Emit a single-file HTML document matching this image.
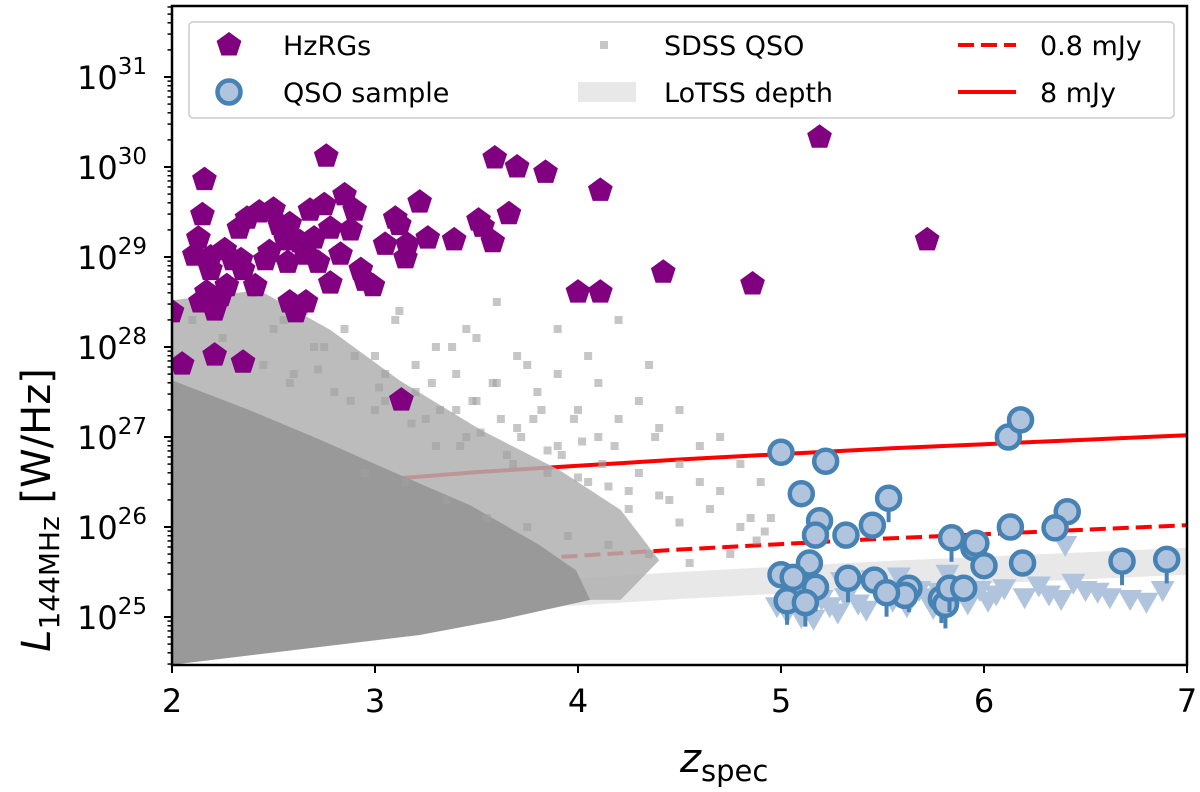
<!DOCTYPE html>
<html><head><meta charset="utf-8"><style>
body{margin:0;background:#fff;}
svg{display:block;font-family:"DejaVu Sans","Liberation Sans",sans-serif;}
</style></head><body>
<svg id="chart" width="1200" height="792" viewBox="0 0 1200 792"></svg>
<script>
// ---- data (z, log10 L) ----
const hzrgZ=[2.00,2.05,2.16,2.15,2.11,2.13,2.19,2.17,2.21,2.24,2.27,2.21,2.30,2.33,2.37,2.43,2.50,2.35,2.35,2.41,2.46,2.48,2.56,2.57,2.58,2.63,2.58,2.61,2.66,2.68,2.70,2.75,2.76,2.78,2.83,2.78,2.85,2.88,2.90,2.93,2.95,2.99,3.05,3.10,3.12,3.15,3.16,3.22,3.26,3.39,3.13,3.51,3.53,3.58,3.59,3.66,3.70,3.84,4.11,4.00,4.11,4.42,4.86,5.19,5.72,2.34,2.26,2.19,2.14,2.53,2.72,2.66];
const hzrgL=[28.39,27.81,29.86,29.47,29.02,29.21,28.86,28.61,28.41,28.57,28.68,27.91,28.97,29.32,29.43,29.50,29.53,27.83,28.86,28.68,28.97,29.06,29.19,28.94,29.37,29.17,28.50,28.39,28.50,29.52,29.21,29.58,30.12,29.32,29.03,28.71,29.69,29.30,29.52,28.86,28.74,28.68,29.14,29.43,29.36,28.99,29.14,29.61,29.21,29.19,27.41,29.41,29.34,29.17,30.10,29.48,30.00,29.94,29.74,28.61,28.61,28.83,28.70,30.33,29.19,28.97,29.08,29.00,28.50,29.36,28.94,29.03];
const qsoZ=[5.00,5.22,5.10,5.53,5.19,5.17,5.32,5.45,6.12,6.18,6.13,6.41,6.35,5.84,5.95,5.96,6.00,6.19,6.68,5.00,5.14,5.07,5.06,5.17,5.33,5.46,5.63,5.61,5.79,5.81,5.83,5.90,5.03,5.12,5.52,6.90];
const qsoL=[26.83,26.73,26.37,26.32,26.07,25.91,25.91,26.02,27.00,27.19,26.00,26.17,25.99,25.88,25.77,25.82,25.57,25.60,25.62,25.47,25.60,25.38,25.44,25.33,25.43,25.41,25.32,25.24,25.20,25.14,25.32,25.32,25.18,25.16,25.27,25.64];
const qsoHasLimit=[0,0,0,1,0,0,0,0,0,0,0,0,0,1,0,0,0,0,1,0,0,0,1,1,1,0,1,0,1,1,1,0,1,1,1,1];
const limZ=[4.98,5.03,5.08,5.12,5.16,5.20,5.24,5.28,5.32,5.38,5.42,5.50,5.55,5.62,5.68,5.72,5.75,5.78,5.86,5.92,5.98,6.02,6.06,6.10,6.20,6.27,6.32,6.38,6.44,6.50,6.56,6.62,6.72,6.80,6.88,5.45,5.58,5.82,5.10,5.30,6.40];
const limL=[25.12,25.05,25.17,25.10,24.98,25.20,25.12,25.05,25.22,25.15,25.08,25.25,25.18,25.12,25.30,25.22,25.10,25.28,25.20,25.15,25.30,25.18,25.25,25.32,25.22,25.35,25.25,25.20,25.38,25.30,25.28,25.22,25.20,25.17,25.30,25.42,25.45,25.48,25.00,25.40,25.80];
// SDSS dense-region outline and scattered points
const denseZ=[2.00,2.38,2.73,3.12,3.47,3.81,3.99,4.06,3.62,3.22,2.00];
const denseL=[27.63,27.30,26.97,26.58,26.24,25.80,25.52,25.19,24.97,24.80,24.47];
const midZ=[2.00,2.43,2.78,3.12,3.52,3.91,4.21,4.40,4.21,2.00];
const midL=[28.52,28.63,28.19,27.63,27.08,26.63,26.19,25.63,25.19,25.19];
const sdssZ=[2.10,2.25,2.40,2.55,2.70,2.85,3.00,3.10,3.20,3.30,3.40,3.50,3.60,3.70,3.80,3.90,4.00,4.10,4.20,4.30,4.40,4.50,4.60,4.70,4.80,4.90,3.05,3.25,3.45,3.65,3.85,4.05,4.25,4.45,4.65,4.85,2.95,3.15,3.35,3.55,3.75,3.95,4.15,4.35,4.55,4.75,3.45,3.60,3.75,3.90,4.05,4.20,4.35,3.30,3.50,3.70,3.90,4.10,4.30,4.50,4.70,4.80,4.95,4.92,4.88,2.60,2.80,3.00,3.20,3.40,3.58,3.78,3.98,4.18,4.38,4.60,2.50,2.65,2.75,2.90,3.05,3.12,3.28,3.38,3.48,3.62,3.72,3.82,3.92,4.02,4.12,2.45,2.58,2.72,2.88,3.02,3.18,3.32,3.42,3.52,3.68,3.85,4.00,4.15,4.25,4.40,4.50];
const sdssL=[28.30,28.10,28.60,28.30,28.00,28.20,27.90,28.30,27.80,28.00,27.70,28.10,27.60,27.90,27.50,27.70,27.30,27.60,27.20,27.40,27.10,27.30,26.90,27.00,26.70,26.50,27.40,27.20,27.00,26.80,26.60,26.50,26.40,26.30,26.20,26.10,26.60,26.50,26.30,26.10,26.00,25.90,25.80,25.70,25.60,25.70,28.20,28.50,27.80,28.20,27.90,28.30,27.80,26.90,27.40,27.10,26.90,27.00,26.60,26.70,26.40,26.00,26.10,25.95,25.85,27.70,27.50,27.30,27.50,27.30,27.60,27.20,27.20,26.90,27.00,26.50,28.20,28.40,28.00,27.90,27.70,28.40,27.60,28.00,27.40,27.20,27.00,27.30,26.80,26.95,26.70,27.80,27.60,27.75,27.40,27.55,27.15,27.30,26.90,27.05,26.70,26.85,26.55,26.45,26.20,26.35,26.05];
const dashedZ=[2,2.5,3,3.5,4,4.5,5,5.5,6,6.5,7];
const dashedL=[25.30,25.42,25.52,25.61,25.68,25.75,25.81,25.87,25.92,25.97,26.02];
const solidL=[26.30,26.42,26.52,26.61,26.68,26.75,26.81,26.87,26.92,26.97,27.02];
const bandHiL=[25.05,25.17,25.27,25.36,25.43,25.50,25.56,25.62,25.67,25.72,25.77];
const bandLoL=[24.75,24.87,24.97,25.06,25.13,25.20,25.26,25.32,25.37,25.42,25.47];
const xTicks=[2,3,4,5,6,7];
const yTicks=[25,26,27,28,29,30,31];

const NS='http://www.w3.org/2000/svg';
const svg=document.getElementById('chart');
const X0=172,X1=1187,Y0=6,Y1=665;
const xs=z=>X0+(z-2)*203;
const ys=l=>617-(l-25)*90;
function mk(tag,attrs,parent){const e=document.createElementNS(NS,tag);for(const k in attrs)e.setAttribute(k,attrs[k]);(parent||svg).appendChild(e);return e;}
const defs=mk('defs',{});
const cp=mk('clipPath',{id:'clip'},defs);mk('rect',{x:X0,y:Y0,width:X1-X0,height:Y1-Y0},cp);
const g=mk('g',{'clip-path':'url(#clip)'});



let bp=dashedZ.map((z,i)=>xs(z)+','+ys(bandHiL[i])).join(' ')+' '+dashedZ.map((z,i)=>xs(z)+','+ys(bandLoL[i])).reverse().join(' ');
const band=mk('polygon',{points:bp,fill:'#e8e8e8'},g);


const dl=mk('polyline',{points:dashedZ.map((z,i)=>xs(z)+','+ys(dashedL[i])).join(' '),fill:'none',stroke:'#ff0000','stroke-width':4,'stroke-dasharray':'16,7'},g);


const sl=mk('polyline',{points:dashedZ.map((z,i)=>xs(z)+','+ys(solidL[i])).join(' '),fill:'none',stroke:'#ff0000','stroke-width':4},g);


const mp=mk('polygon',{points:midZ.map((z,i)=>xs(z)+','+ys(midL[i])).join(' '),fill:'#b0b0b0',opacity:0.85},g);


const dp=mk('polygon',{points:denseZ.map((z,i)=>xs(z)+','+ys(denseL[i])).join(' '),fill:'#999999'},g);


sdssZ.forEach((z,i)=>{const r=mk('rect',{x:xs(z)-4,y:ys(sdssL[i])-4,width:8,height:8,fill:'#a0a0a0',opacity:0.6},g);

});
limZ.forEach((z,i)=>{const x=xs(z),y=ys(limL[i]);const t=mk('polygon',{points:`${x-12},${y-9} ${x+12},${y-9} ${x},${y+12}`,fill:'#b0c4de'},g);

});
function pent(cx,cy,r){let p=[];for(let k=0;k<5;k++){const a=-Math.PI/2+k*2*Math.PI/5;p.push((cx+r*Math.cos(a)).toFixed(1)+','+(cy+r*Math.sin(a)).toFixed(1));}return p.join(' ');}
hzrgZ.forEach((z,i)=>{const p=mk('polygon',{points:pent(xs(z),ys(hzrgL[i]),13),fill:'#800080'},g);

});
qsoZ.forEach((z,i)=>{const x=xs(z),y=ys(qsoL[i]);
if(qsoHasLimit[i]){const s=mk('line',{x1:x,y1:y,x2:x,y2:y+24,stroke:'#4682b4','stroke-width':4},g);

}
const c=mk('circle',{cx:x,cy:y,r:11.5,fill:'#b0c4de',stroke:'#4682b4','stroke-width':4.5},g);

});

const fr=mk('rect',{x:X0,y:Y0,width:X1-X0,height:Y1-Y0,fill:'none',stroke:'#000','stroke-width':2.5});


xTicks.forEach(t=>{const x=xs(t);mk('line',{x1:x,y1:Y1,x2:x,y2:Y1+8,stroke:'#000','stroke-width':2});
const tx=mk('text',{x:x,y:Y1+47,'text-anchor':'middle','font-size':32});tx.textContent=t;

});
for(let d=24;d<=31;d++){for(let m=1;m<10;m++){const l=d+Math.log10(m);const y=ys(l);if(y<Y0||y>Y1)continue;
mk('line',{x1:X0-(m===1?8:4.5),y1:y,x2:X0,y2:y,stroke:'#000','stroke-width':m===1?2:1.5});}}
yTicks.forEach(t=>{const y=ys(t);const tx=mk('text',{x:147,y:y+12,'text-anchor':'end','font-size':32});
tx.innerHTML='10<tspan dy="-15" font-size="23">'+t+'</tspan>';

});
const xl=mk('text',{x:680,y:772,'font-size':40});xl.innerHTML='<tspan font-style="italic">z</tspan><tspan dy="9" font-size="29">spec</tspan>';


const yl=mk('text',{transform:'translate(50,510) rotate(-90)','font-size':40,'text-anchor':'middle'});yl.innerHTML='<tspan font-style="italic">L</tspan><tspan dy="9" font-size="28">144MHz</tspan><tspan dy="-9"> [W/Hz]</tspan>';



const lg=mk('g',{});


mk('rect',{x:189,y:22,width:985,height:96,rx:4,fill:'#fff','fill-opacity':0.85,stroke:'#ccc','stroke-width':1.5},lg);
mk('polygon',{points:pent(229,45,13),fill:'#800080'},lg);
mk('circle',{cx:229,cy:92,r:11.5,fill:'#b0c4de',stroke:'#4682b4','stroke-width':4.5},lg);
mk('rect',{x:600,y:41,width:8,height:8,fill:'#a0a0a0',opacity:0.6},lg);
mk('rect',{x:578,y:82,width:58,height:20,fill:'#e8e8e8'},lg);
mk('line',{x1:958,y1:45,x2:1016,y2:45,stroke:'#ff0000','stroke-width':4,'stroke-dasharray':'16,7'},lg);
mk('line',{x1:958,y1:92,x2:1016,y2:92,stroke:'#ff0000','stroke-width':4},lg);
[['HzRGs',283,55],['QSO sample',283,102],['SDSS QSO',664,55],['LoTSS depth',664,102],['0.8 mJy',1040,55],['8 mJy',1040,102]].forEach(a=>{
const t=mk('text',{x:a[1],y:a[2],'font-size':27},lg);t.textContent=a[0];

});
</script>
</body></html>
